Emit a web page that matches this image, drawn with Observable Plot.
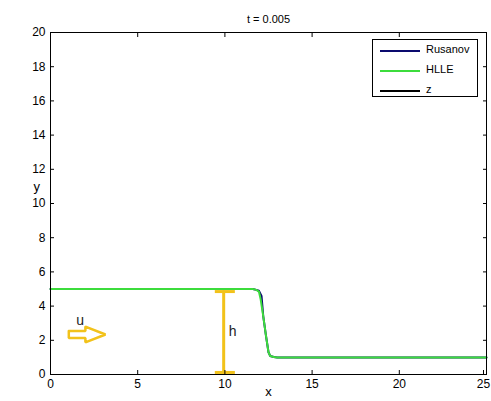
<!DOCTYPE html>
<html><head><meta charset="utf-8">
<script src="https://cdn.jsdelivr.net/npm/d3@7"></script>
<script src="https://cdn.jsdelivr.net/npm/@observablehq/plot@0.6"></script>
<style>
body{margin:0;background:#fff;font-family:"Liberation Sans",Arial,sans-serif;}
#wrap{position:relative;width:491px;height:401px;}
#legend{position:absolute;left:372px;top:39px;width:106px;height:58px;border:1px solid #000;background:#fff;box-sizing:border-box;font-size:11px;}
.row{position:absolute;left:7px;height:12px;}
.row span.l{position:absolute;left:0;top:5px;width:40px;height:0;border-top-style:solid;}
.row span.t{position:absolute;left:46px;top:-2px;white-space:nowrap;}
</style></head>
<body><div id="wrap"></div>
<script>
const title = "t = 0.005";
const xTicks = [0,5,10,15,20,25];
const yTicks = [0,2,4,6,8,10,12,14,16,18,20];
const hlleX = [0,11.6,11.8,11.95,12.05,12.2,12.35,12.5,12.6,12.8,13,25];
const hlleY = [5,5,4.95,4.85,4.4,3.4,2.3,1.3,1.08,1.02,1,1];
const rusX  = [0,11.6,11.8,11.95,12.1,12.2,12.35,12.5,12.6,12.8,13,25];
const rusY  = [5,5,4.95,4.9,4.6,3.4,2.3,1.3,1.08,1.02,1,1];
const zX = [0,25];
const zY = [0,0];
const arrowX = [1.05,2.0,2.0,3.15,2.0,2.0,1.05,1.05];
const arrowY = [2.55,2.55,2.8,2.34,1.88,2.13,2.13,2.55];
const hBarX = [9.93,9.93];
const hBarY = [0.12,4.85];
const hCapX1 = [9.45,9.45];
const hCapX2 = [10.6,10.6];
const hCapY = [0.12,4.85];
const labels = [{x:1.7,y:3.15,t:"u"},{x:10.45,y:2.5,t:"h"}];
const legendNames = ["Rusanov","HLLE","z"];
const legendColors = ["#0a0a6e","#3cdc3c","#000000"];

const green = legendColors[1], navy = legendColors[0], yellow = "#f2c21a";
const pts = (xs, ys) => xs.map((x,i)=>({x, y: ys[i]}));
const caps = hCapY.map((y,i)=>({x1:hCapX1[i], x2:hCapX2[i], y}));
const xTicksMain = xTicks.slice(0, -1), xTickLast = xTicks.slice(-1);

const chart = Plot.plot({
  width: 491, height: 401,
  marginLeft: 50, marginRight: 5, marginTop: 32, marginBottom: 27,
  style: {fontFamily: '"Liberation Sans",Arial,sans-serif', fontSize: "12px", background: "#fff", overflow: "visible"},
  x: {domain: [0,25], ticks: xTicks, label: null},
  y: {domain: [0,20], ticks: yTicks, label: null},
  marks: [
    Plot.line(pts(zX,zY), {x:"x", y:"y", stroke: "#000", strokeWidth: 1}),
    Plot.line(pts(rusX,rusY), {x:"x", y:"y", stroke: navy, strokeWidth: 2}),
    Plot.line(pts(hlleX,hlleY), {x:"x", y:"y", stroke: green, strokeWidth: 2}),
    Plot.line(pts(arrowX,arrowY), {x:"x", y:"y", stroke: yellow, strokeWidth: 2.5, strokeLinejoin:"miter"}),
    Plot.line(pts(hBarX,hBarY), {x:"x", y:"y", stroke: yellow, strokeWidth: 3}),
    Plot.ruleY(caps, {x1:"x1", x2:"x2", y:"y", stroke: yellow, strokeWidth: 3}),
    Plot.text(labels, {x:"x", y:"y", text:"t", fontSize: 14, fill:"#222"}),
    Plot.frame({stroke:"#000", strokeWidth: 1}),
    Plot.axisX({anchor:"bottom", ticks: xTicksMain, tickSize: -4, tickPadding: 9, fontSize: 12, label: null}),
    Plot.axisX({anchor:"bottom", ticks: xTickLast, tickSize: -4, tickPadding: 9, fontSize: 12, dx: -3, label: null}),
    Plot.axisX({anchor:"top", ticks: xTicks, tickSize: -4, text: null, label: null}),
    Plot.axisY({anchor:"left", ticks: yTicks, tickSize: -4, tickPadding: 9, fontSize: 12, label: null}),
    Plot.axisY({anchor:"right", ticks: yTicks, tickSize: -4, text: null, label: null}),
    Plot.text([title], {frameAnchor:"top", dy:-17, text: d=>d, fontSize: 11}),
    Plot.text(["x"], {frameAnchor:"bottom", dy:21, text: d=>d, fontSize: 13}),
    Plot.text(["y"], {frameAnchor:"left", dx:-17, dy:-17, text: d=>d, fontSize: 13})
  ]
});
const wrap = document.getElementById("wrap");
wrap.appendChild(chart);
const lg = document.createElement("div");
lg.id = "legend";
legendNames.forEach((n,i)=>{
  const r = document.createElement("div");
  r.className = "row";
  r.style.top = (5 + i*20) + "px";
  r.innerHTML = `<span class="l" style="border-top-width:2px;border-top-color:${legendColors[i]}"></span><span class="t">${n}</span>`;
  lg.appendChild(r);
});
wrap.appendChild(lg);
</script></body></html>
